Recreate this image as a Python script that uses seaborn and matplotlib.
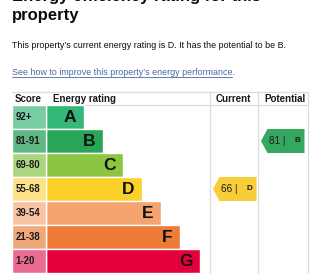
import numpy as np
import pandas as pd
import matplotlib
matplotlib.use("Agg")
import matplotlib.pyplot as plt
import seaborn as sns

# ---------------- data ----------------
ratings = ["A", "B", "C", "D", "E", "F", "G"]
score_bands = ["92+", "81-91", "69-80", "55-68", "39-54", "21-38", "1-20"]
bar_lengths = [38, 57, 77, 96, 115, 134, 154]
bar_colors = ["#33b877", "#28a559", "#8cc541", "#fbd02b", "#f6a46f", "#ec7c38", "#e4003d"]
score_colors = ["#79cba2", "#5fb883", "#acd57f", "#fbe285", "#f8c3a2", "#f0a77c", "#ea6c93"]
headers = ["Score", "Energy rating", "Current", "Potential"]
current_score, current_rating = 66, "D"
potential_score, potential_rating = 81, "B"
title_lines = ["Energy efficiency rating for this", "property"]
summary = "This property\u2019s current energy rating is D. It has the potential to be B."
link_text = "See how to improve this property\u2019s energy performance."

# ---------------- layout (pixels) ----------------
W, H = 322, 274
DPI = 100
tbl_left, tbl_right = 12, 308
bar_x0 = 46
col_cur, col_pot = 210, 258
tbl_top, head_bot = 92, 105
row_h = 24
n = len(ratings)
body_bot = head_bot + n * row_h
grid_c = "#dcdcdc"
FONT = "Liberation Sans"

sns.set_theme(style="white")
plt.rcParams["font.family"] = [FONT, "DejaVu Sans"]

fig = plt.figure(figsize=(W / DPI, H / DPI), dpi=DPI)

# background overlay axes in pixel coordinates
bg = fig.add_axes([0, 0, 1, 1])
bg.set_xlim(0, W)
bg.set_ylim(H, 0)
bg.axis("off")

# table lines
bg.plot([tbl_left, tbl_right], [tbl_top, tbl_top], color=grid_c, lw=0.9)
bg.plot([tbl_left, tbl_right], [head_bot, head_bot], color=grid_c, lw=0.9)
for xv in (col_cur, col_pot, tbl_right):
    bg.plot([xv, xv], [tbl_top, H], color=grid_c, lw=0.9)

# title & text
tc = "#0b0c0c"
bg.text(12, 1, title_lines[0], fontsize=12, fontweight="bold", color=tc, va="baseline")
bg.text(12, 20, title_lines[1], fontsize=12, fontweight="bold", color=tc, va="baseline")
bg.text(12, 46, summary, fontsize=6.38, color=tc, va="center")
bg.text(12, 72.5, link_text, fontsize=6.4, color="#4a68a0", va="center")
bg.plot([12, 232], [76.8, 76.8], color="#4a68a0", lw=0.6)

# headers
hy = 99
hx = [15, 53, 216, 264]
for x, t in zip(hx, headers):
    bg.text(x, hy, t, fontsize=7, fontweight="bold", color="#1a1a1a", va="center")

# ---------------- bar axes ----------------
ax = fig.add_axes([tbl_left / W, (H - body_bot) / H, (tbl_right - tbl_left) / W, n * row_h / H])
ax.patch.set_alpha(0)

df = pd.DataFrame({"rating": ratings, "length": bar_lengths, "band": score_bands})
score_w = bar_x0 - tbl_left
df["score_cell"] = -score_w

sns.barplot(data=df, x="length", y="rating", hue="rating", palette=bar_colors,
            width=1.0, orient="h", legend=False, ax=ax, saturation=1)
sns.barplot(data=df, x="score_cell", y="rating", hue="rating", palette=score_colors,
            width=1.0, orient="h", legend=False, ax=ax, saturation=1)

ax.set_xlim(-score_w, tbl_right - bar_x0)
ax.set_ylim(n - 0.5, -0.5)
ax.axis("off")

for i, (r, L, band) in enumerate(zip(ratings, bar_lengths, score_bands)):
    ax.text(L - 7.5, i + 0.03, r, ha="right", va="center", fontsize=12.5,
            fontweight="bold", color="#111111")
    ax.text(-score_w + 3.5, i, band, ha="left", va="center", fontsize=6.9,
            fontweight="bold", color="#1a1a1a")


def arrow(col_left, rating, score, color):
    i = ratings.index(rating)
    x_tip = col_left - bar_x0 + 3
    x_body = x_tip + 6.5
    x_right = x_tip + 43.5
    ys = [i, i - 0.5, i - 0.5, i + 0.5, i + 0.5]
    xs = [x_tip, x_body, x_right, x_right, x_body]
    ax.fill(xs, ys, color=color, lw=0)
    ax.text(x_body + 1.5, i, f"{score} |", ha="left", va="center", fontsize=7.2,
            color="#1a1a1a")
    ax.text(x_right - 4.5, i, rating, ha="right", va="center", fontsize=5.8,
            fontweight="bold", color="#1a1a1a")


arrow(col_cur, current_rating, current_score, "#f8cd3a")
arrow(col_pot, potential_rating, potential_score, "#35a85f")

fig.savefig("out.png", dpi=DPI)
